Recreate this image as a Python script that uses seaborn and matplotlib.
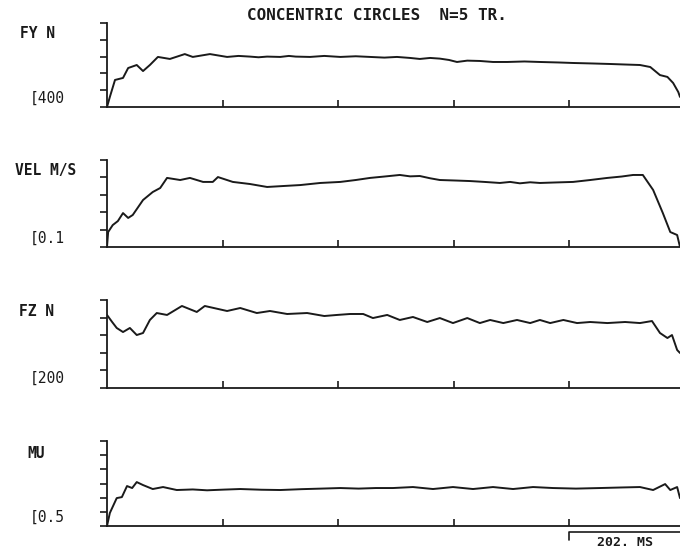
import numpy as np
import pandas as pd
import matplotlib
matplotlib.use("Agg")
import matplotlib.pyplot as plt
import matplotlib.transforms as mtransforms
import seaborn as sns

# ---------------- data ----------------
title = "CONCENTRIC CIRCLES  N=5 TR."
scale_bar_ms = 202
x_ticks = [202, 404, 606, 808]
t_end = 1002

fy_t = [0, 5, 14, 28, 37, 52, 63, 75, 89, 110, 136, 150, 180, 210, 230, 250, 265, 280, 303, 318,
        330, 355, 380, 408, 435, 460, 485, 507, 530, 547, 565, 582, 598, 612, 630, 652, 675,
        700, 730, 757, 790, 815, 850, 880, 905, 932, 950, 967, 980, 990, 999, 1002]
fy_v = [400, 460, 561, 573, 632, 650, 614, 650, 698, 686, 715, 698, 715, 698, 704, 700, 696, 700,
        698, 704, 700, 698, 704, 698, 702, 698, 694, 698, 692, 686, 692, 688, 680, 668, 676,
        674, 668, 668, 671, 668, 665, 662, 659, 656, 653, 650, 638, 590, 579, 543, 489, 460]

vel_t = [0, 2, 10, 19, 28, 37, 45, 63, 80, 93, 105, 128, 145, 168, 185, 194, 220, 250, 280, 311,
         338, 373, 408, 435, 460, 485, 512, 530, 547, 565, 582, 610, 635, 660, 687, 705, 722,
         740, 757, 785, 815, 845, 875, 900, 920, 937, 955, 972, 985, 997, 1002]
vel_v = [0.100, 0.186, 0.226, 0.249, 0.295, 0.267, 0.284, 0.370, 0.416, 0.439, 0.497, 0.485,
         0.497, 0.474, 0.474, 0.502, 0.474, 0.462, 0.445, 0.451, 0.456, 0.468, 0.474, 0.485,
         0.497, 0.505, 0.514, 0.506, 0.508, 0.495, 0.485, 0.482, 0.479, 0.474, 0.468, 0.474,
         0.466, 0.472, 0.468, 0.471, 0.474, 0.485, 0.497, 0.505, 0.514, 0.514, 0.428, 0.295,
         0.186, 0.169, 0.100]

fz_t = [0, 9, 17, 28, 40, 52, 63, 75, 87, 105, 131, 157, 171, 210, 233, 262, 285, 315, 350, 380,
        402, 425, 448, 465, 490, 512, 535, 560, 582, 605, 630, 652, 670, 693, 717, 740, 757,
        775, 798, 822, 845, 875, 906, 932, 953, 967, 980, 988, 997, 1002]
fz_v = [1030, 950, 882, 836, 882, 802, 825, 973, 1052, 1030, 1132, 1064, 1132, 1075, 1109, 1052,
        1075, 1041, 1052, 1018, 1030, 1041, 1041, 995, 1030, 973, 1007, 950, 995, 938, 995,
        938, 973, 938, 973, 938, 973, 938, 973, 938, 950, 938, 950, 938, 961, 825, 768, 802,
        632, 598]

mu_t = [0, 5, 17, 26, 35, 44, 52, 63, 80, 98, 122, 150, 175, 205, 233, 270, 303, 340, 375, 408,
        440, 470, 500, 535, 570, 605, 640, 675, 710, 745, 780, 820, 862, 900, 932, 955, 976,
        985, 997, 1002]
mu_v = [0.500, 0.592, 0.697, 0.704, 0.782, 0.768, 0.810, 0.789, 0.761, 0.775, 0.754, 0.758,
        0.752, 0.757, 0.761, 0.756, 0.754, 0.760, 0.764, 0.768, 0.764, 0.768, 0.768, 0.775,
        0.761, 0.775, 0.761, 0.775, 0.761, 0.775, 0.768, 0.764, 0.768, 0.772, 0.775, 0.754,
        0.796, 0.754, 0.775, 0.697]

panel_names = ["FY N", "VEL M/S", "FZ N", "MU"]
baseline_labels = ["[400", "[0.1", "[200", "[0.5"]
y_limits = [(400, 900), (0.1, 0.6), (200, 1200), (0.5, 1.1)]
y_tick_counts = [6, 6, 6, 7]

# ---------------- layout (pixels) ----------------
W, H = 680, 550
panel_px = [(23, 107), (160, 247), (300, 388), (441, 526)]  # top, bottom
name_px = [(20, 33), (15, 170), (19, 312), (27, 453)]
base_px = [(30, 98), (30, 238), (30, 378), (30, 517)]
left_px = 107

sns.set_style("ticks")
plt.rcParams["font.family"] = ["DejaVu Sans Mono", "DejaVu Sans"]

fig = plt.figure(figsize=(W / 100, H / 100), dpi=100)
series = [(fy_t, fy_v), (vel_t, vel_v), (fz_t, fz_v), (mu_t, mu_v)]
ink = "#1a1a1a"
axes = []
for i, ((t, v), (top, bot)) in enumerate(zip(series, panel_px)):
    ax = fig.add_axes([left_px / W, 1 - bot / H, (W - left_px) / W, (bot - top) / H])
    df = pd.DataFrame({"t": t, "v": v})
    sns.lineplot(data=df, x="t", y="v", ax=ax, color=ink, linewidth=1.4, estimator=None,
                 sort=False)
    lo, hi = y_limits[i]
    ax.set_xlim(0, t_end)
    ax.set_ylim(lo, hi)
    ax.set_yticks(np.linspace(lo, hi, y_tick_counts[i]))
    ax.set_xticks(x_ticks)
    ax.set_xticklabels([])
    ax.set_yticklabels([])
    ax.set_xlabel("")
    ax.set_ylabel("")
    ax.tick_params(axis="y", direction="out", length=5, width=1.2, color=ink)
    ax.tick_params(axis="x", direction="in", length=5, width=1.2, color=ink)
    for s in ["top", "right"]:
        ax.spines[s].set_visible(False)
    for s in ["left", "bottom"]:
        ax.spines[s].set_linewidth(1.3)
        ax.spines[s].set_color(ink)
    ax.patch.set_alpha(0)
    axes.append(ax)
    fig.text(name_px[i][0] / W, 1 - name_px[i][1] / H, panel_names[i], ha="left", va="center",
             fontsize=10.5, fontweight="bold", color=ink)
    fig.text(base_px[i][0] / W, 1 - base_px[i][1] / H, baseline_labels[i], ha="left",
             va="center", fontsize=10.5, color=ink)

fig.text(377 / W, 1 - 16 / H, title, ha="center", va="center", fontsize=11.5,
         fontweight="bold", color=ink)

# scale bar under last panel
ax = axes[-1]
trans = mtransforms.blended_transform_factory(ax.transData, ax.transAxes)
x0 = x_ticks[-1]
ax.plot([x0, x0, t_end], [-0.165, -0.07, -0.07], transform=trans, color=ink, lw=1.2,
        clip_on=False)
ax.text((x0 + t_end) / 2, -0.2, f"{scale_bar_ms}. MS", transform=trans, ha="center",
        va="center", fontsize=9.5, fontweight="bold", color=ink)

fig.savefig("out.png", dpi=100)
